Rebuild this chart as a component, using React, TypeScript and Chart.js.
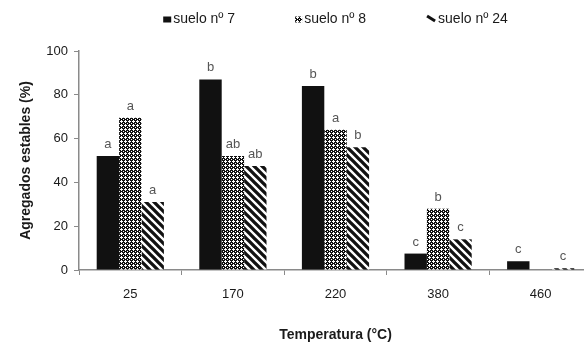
import { useEffect, useRef } from 'react';
import { Chart, registerables } from 'chart.js';

Chart.register(...registerables);

const categories = ['25', '170', '220', '380', '460'];
const seriesNames = ['suelo nº 7', 'suelo nº 8', 'suelo nº 24'];
const suelo7 = [52, 87, 84, 7.5, 4];
const suelo8 = [69.5, 52, 64, 28, null];
const suelo24 = [31, 47.5, 56, 14, 0.8];
const letters7 = ['a', 'b', 'b', 'c', 'c'];
const letters8 = ['a', 'ab', 'a', 'b', ''];
const letters24 = ['a', 'ab', 'b', 'c', 'c'];
const yTicks = [0, 20, 40, 60, 80, 100];
const yTitle = 'Agregados estables (%)';
const xTitle = 'Temperatura (°C)';

const FONT = '"Liberation Sans", Arial, Helvetica, sans-serif';
const letterSets = [letters7, letters8, letters24];

function checkerPattern(ctx: CanvasRenderingContext2D) {
  const c = document.createElement('canvas');
  c.width = 4;
  c.height = 4;
  const g = c.getContext('2d')!;
  g.fillStyle = '#111';
  g.fillRect(0, 0, 4, 4);
  g.fillStyle = '#fff';
  [[1, 0], [0, 1], [1, 1], [2, 1], [1, 2], [3, 3]].forEach(([x, y]) => g.fillRect(x, y, 1, 1));
  return ctx.createPattern(c, 'repeat')!;
}

function hatchPattern(ctx: CanvasRenderingContext2D) {
  const s = 8;
  const c = document.createElement('canvas');
  c.width = s;
  c.height = s;
  const g = c.getContext('2d')!;
  g.fillStyle = '#fff';
  g.fillRect(0, 0, s, s);
  g.strokeStyle = '#111';
  g.lineWidth = 3.3;
  g.beginPath();
  for (const o of [-s, 0, s]) {
    g.moveTo(o - 2, -2);
    g.lineTo(o + s + 2, s + 2);
  }
  g.stroke();
  return ctx.createPattern(c, 'repeat')!;
}

const legendPlugin = {
  id: 'customLegend',
  afterDraw(chart: any) {
    const { ctx, chartArea } = chart;
    ctx.save();
    ctx.font = `14px ${FONT}`;
    ctx.textBaseline = 'middle';
    ctx.textAlign = 'left';
    const markerW = [8, 7, 10];
    const markerGap = 2;
    const itemGap = 60;
    const widths = seriesNames.map((n, i) => markerW[i] + markerGap + ctx.measureText(n).width);
    const total = widths.reduce((a, b) => a + b, 0) + itemGap * (widths.length - 1);
    let x = (chartArea.left + chartArea.right) / 2 - total / 2;
    const y = 19;
    chart.data.datasets.forEach((ds: any, i: number) => {
      if (i === 0) {
        ctx.fillStyle = ds.backgroundColor;
        ctx.fillRect(x, y - 2.5, 8, 6);
      } else if (i === 1) {
        ctx.fillStyle = ds.backgroundColor;
        ctx.fillRect(x, y - 2.5, 7, 6);
      } else {
        ctx.strokeStyle = '#111';
        ctx.lineWidth = 3;
        ctx.beginPath();
        ctx.moveTo(x + 1, y - 3);
        ctx.lineTo(x + 9, y + 2);
        ctx.stroke();
      }
      ctx.fillStyle = '#1a1a1a';
      ctx.fillText(seriesNames[i], x + markerW[i] + markerGap, y);
      x += widths[i] + itemGap;
    });
    ctx.restore();
  },
};

const letterPlugin = {
  id: 'letters',
  afterDatasetsDraw(chart: any) {
    const { ctx } = chart;
    ctx.save();
    ctx.font = `13px ${FONT}`;
    ctx.fillStyle = '#555';
    ctx.textAlign = 'center';
    ctx.textBaseline = 'alphabetic';
    letterSets.forEach((letters, di) => {
      const meta = chart.getDatasetMeta(di);
      meta.data.forEach((el: any, i: number) => {
        const t = letters[i];
        const v = chart.data.datasets[di].data[i];
        if (!t || v == null) return;
        ctx.fillText(t, el.x, el.y - 8);
      });
    });
    ctx.restore();
  },
};

export default function App() {
  const ref = useRef<HTMLCanvasElement>(null);
  useEffect(() => {
    document.body.style.margin = '0';
    document.body.style.overflow = 'hidden';
    document.documentElement.style.overflow = 'hidden';
    const canvas = ref.current!;
    const ctx = canvas.getContext('2d')!;
    const axisColor = '#8a8a8a';
    const textColor = '#1a1a1a';
    const chart = new Chart(ctx, {
      type: 'bar',
      data: {
        labels: categories,
        datasets: [
          { label: seriesNames[0], data: suelo7, backgroundColor: '#111' },
          { label: seriesNames[1], data: suelo8 as any, backgroundColor: checkerPattern(ctx) as any },
          { label: seriesNames[2], data: suelo24, backgroundColor: hatchPattern(ctx) as any },
        ],
      },
      options: {
        animation: false,
        responsive: false,
        maintainAspectRatio: false,
        datasets: { bar: { categoryPercentage: 0.655, barPercentage: 1, borderWidth: 0 } },
        layout: { padding: { left: 0, top: 51, right: 8, bottom: 0 } },
        plugins: { legend: { display: false }, tooltip: { enabled: false } },
        scales: {
          x: {
            ticks: { padding: 12, color: textColor, font: { size: 13, family: FONT } },
            grid: { display: true, drawOnChartArea: false, drawTicks: true, tickLength: 5, color: axisColor, offset: true },
            border: { display: true, color: axisColor, width: 1.5 },
            title: { display: true, text: xTitle, color: textColor, font: { size: 14, weight: 'bold', family: FONT }, padding: { top: 0, bottom: 2 } },
            afterFit: (s: any) => { s.height = 76; },
          },
          y: {
            min: 0,
            max: 100,
            afterBuildTicks: (s: any) => { s.ticks = yTicks.map((v) => ({ value: v })); },
            ticks: { padding: 6, color: textColor, font: { size: 13, family: FONT } },
            grid: { display: true, drawOnChartArea: false, drawTicks: true, tickLength: 5, color: axisColor },
            border: { display: true, color: axisColor, width: 1.5 },
            title: { display: true, text: yTitle, color: textColor, font: { size: 14, weight: 'bold', family: FONT }, padding: { top: 18, bottom: 0 } },
            afterFit: (s: any) => { s.width = 79; },
          },
        },
      } as any,
      plugins: [legendPlugin, letterPlugin],
    });
    return () => chart.destroy();
  }, []);
  return (
    <div style={{ width: 600, height: 346, overflow: 'hidden' }}>
      <canvas ref={ref} width={600} height={346} style={{ display: 'block' }} />
    </div>
  );
}
